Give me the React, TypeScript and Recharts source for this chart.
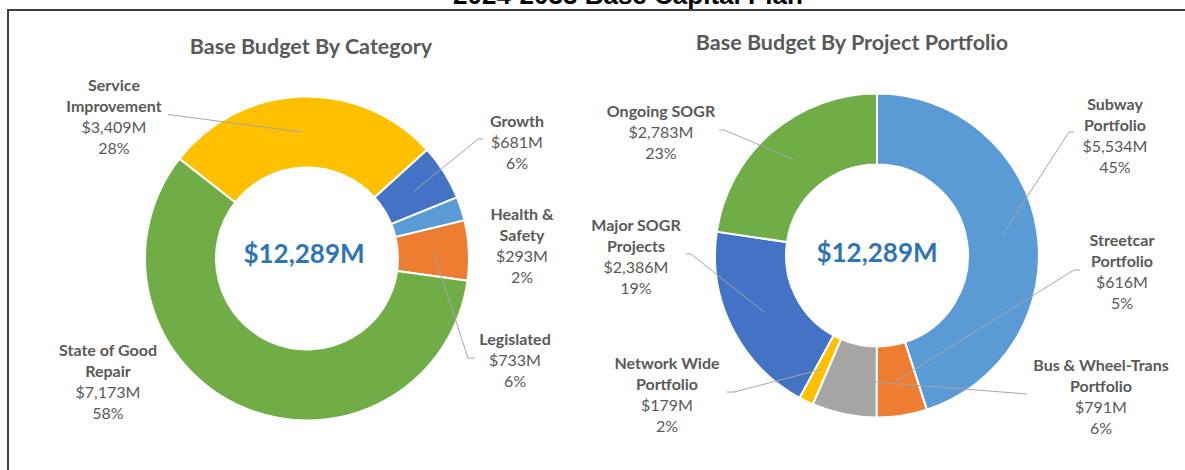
import React from 'react';
import { PieChart, Pie, Cell } from 'recharts';

// ---- data ----
const categoryNames = ['Service\nImprovement', 'Growth', 'Health &\nSafety', 'Legislated', 'State of Good\nRepair'];
const categoryValues = [3409, 681, 293, 733, 7173];
const categoryPercents = ['28%', '6%', '2%', '6%', '58%'];

const portfolioNames = [
  'Subway\nPortfolio',
  'Streetcar\nPortfolio',
  'Bus & Wheel-Trans\nPortfolio',
  'Network Wide\nPortfolio',
  'Major SOGR\nProjects',
  'Ongoing SOGR',
];
const portfolioValues = [5534, 616, 791, 179, 2386, 2783];
const portfolioPercents = ['45%', '5%', '6%', '2%', '19%', '23%'];

// ---- styles ----
const FONT = 'Lato, "Open Sans", sans-serif';
const TEXT = '#595959';
const LEADER = '#A6A6A6';
const TOTAL = '#2E75B6';
const LINE_H = 21;
const RAD = Math.PI / 180;

const categoryColors = ['#FFC000', '#4472C4', '#5B9BD5', '#ED7D31', '#70AD47'];
const portfolioColors = ['#5B9BD5', '#ED7D31', '#A5A5A5', '#FFC000', '#4472C4', '#70AD47'];

// label block centre (dx, dy) and leader start (lx, ly, short horizontal h), relative to pie centre
type Spot = { dx: number; dy: number; lx?: number; ly?: number; h?: number; frac?: number };

const categorySpots: Spot[] = [
  { dx: -193, dy: -142.5, lx: -139, ly: -144, h: 0 },
  { dx: 210, dy: -117.5, lx: 176, ly: -119.5, h: -5 },
  { dx: 215, dy: -13.5 },
  { dx: 208, dy: 100.5, lx: 168, ly: 99.5, h: -7 },
  { dx: -199, dy: 122 },
];

const portfolioSpots: Spot[] = [
  { dx: 238, dy: -120.5, lx: 197, ly: -123.5, h: -5 },
  { dx: 245, dy: 15.5, lx: 203, ly: 14.5, h: -6 },
  { dx: 224, dy: 140, lx: 150, ly: 138.5, h: 0, frac: 0.04 },
  { dx: -210, dy: 138.5, lx: -150, ly: 136.5, h: 7 },
  { dx: -241, dy: 0.5, lx: -191, ly: -1.5, h: 5 },
  { dx: -216, dy: -124, lx: -158, ly: -125.5, h: 5 },
];

const money = (v: number) => '$' + String(Math.round(v)).replace(/\B(?=(\d{3})+(?!\d))/g, ',') + 'M';

const makeLabel = (names: string[], pcts: string[], spots: Spot[]) => (props: any) => {
  const { cx, cy, index, value, startAngle, endAngle, innerRadius, outerRadius } = props;
  const s = spots[index];
  const lines = [
    ...names[index].split('\n').map((t) => ({ t, bold: true })),
    { t: money(value), bold: false },
    { t: pcts[index], bold: false },
  ];
  const x = cx + s.dx;
  const y0 = cy + s.dy - ((lines.length - 1) * LINE_H) / 2;
  let lead = null;
  if (s.lx !== undefined && s.ly !== undefined) {
    const ang = startAngle + (s.frac ?? 0.5) * (endAngle - startAngle);
    const r = (innerRadius + outerRadius) / 2;
    const ax = cx + r * Math.cos(-ang * RAD);
    const ay = cy + r * Math.sin(-ang * RAD);
    const sx = cx + s.lx;
    const sy = cy + s.ly;
    lead = (
      <polyline
        points={`${sx},${sy} ${sx + (s.h || 0)},${sy} ${ax},${ay}`}
        fill="none"
        stroke={LEADER}
        strokeWidth={1}
      />
    );
  }
  return (
    <g key={`lbl-${index}`}>
      {lead}
      {lines.map((ln, i) => (
        <text
          key={i}
          x={x}
          y={y0 + i * LINE_H}
          textAnchor="middle"
          dominantBaseline="central"
          fill={TEXT}
          fontFamily={FONT}
          fontSize={16}
          fontWeight={ln.bold ? 700 : 400}
        >
          {ln.t}
        </text>
      ))}
    </g>
  );
};

const categoryData = categoryValues.map((v, i) => ({ name: categoryNames[i], value: v }));
const portfolioData = portfolioValues.map((v, i) => ({ name: portfolioNames[i], value: v }));

const LEFT = { cx: 307, cy: 258.5 };
const RIGHT = { cx: 877, cy: 255.5 };
const INNER = 91;
const OUTER = 162;

const total = (vals: number[]) => vals.reduce((a, b) => a + b, 0);

const CenterTotal = ({ cx, cy, value }: { cx: number; cy: number; value: number }) => (
  <div
    style={{
      position: 'absolute',
      left: cx - 110,
      top: cy - 20,
      width: 220,
      height: 36,
      lineHeight: '36px',
      textAlign: 'center',
      fontFamily: FONT,
      fontWeight: 700,
      fontSize: 26,
      color: TOTAL,
    }}
  >
    {money(value)}
  </div>
);

const Title = ({ cx, cy, text }: { cx: number; cy: number; text: string }) => (
  <div
    style={{
      position: 'absolute',
      left: cx - 250,
      top: cy - 13,
      width: 500,
      height: 26,
      lineHeight: '26px',
      textAlign: 'center',
      fontFamily: FONT,
      fontWeight: 700,
      fontSize: 21.5,
      color: TEXT,
    }}
  >
    {text}
  </div>
);

export default function App() {
  return (
    <div
      style={{
        position: 'absolute',
        left: 0,
        top: 0,
        width: 1185,
        height: 470,
        overflow: 'hidden',
        background: '#fff',
      }}
    >
      <div
        style={{
          position: 'absolute',
          left: 0,
          top: -20,
          width: 1256,
          textAlign: 'center',
          fontFamily: '"Liberation Sans", Arial, sans-serif',
          fontWeight: 700,
          fontSize: 26,
          lineHeight: '30px',
          color: '#000',
        }}
      >
        2024-2033 Base Capital Plan
      </div>
      <div
        style={{
          position: 'absolute',
          left: 7,
          top: 9,
          width: 1400,
          height: 700,
          border: '2px solid #404040',
        }}
      />
      <div style={{ position: 'absolute', left: 0, top: 0 }}>
        <PieChart width={1185} height={470} margin={{ top: 0, right: 0, bottom: 0, left: 0 }}>
          <Pie
            data={categoryData}
            dataKey="value"
            nameKey="name"
            cx={LEFT.cx}
            cy={LEFT.cy}
            innerRadius={INNER}
            outerRadius={OUTER}
            startAngle={142}
            endAngle={-218}
            stroke="#fff"
            strokeWidth={2}
            labelLine={false}
            label={makeLabel(categoryNames, categoryPercents, categorySpots)}
            isAnimationActive={false}
          >
            {categoryData.map((d, i) => (
              <Cell key={d.name} fill={categoryColors[i]} />
            ))}
          </Pie>
          <Pie
            data={portfolioData}
            dataKey="value"
            nameKey="name"
            cx={RIGHT.cx}
            cy={RIGHT.cy}
            innerRadius={INNER}
            outerRadius={OUTER}
            startAngle={90}
            endAngle={-270}
            stroke="#fff"
            strokeWidth={2}
            labelLine={false}
            label={makeLabel(portfolioNames, portfolioPercents, portfolioSpots)}
            isAnimationActive={false}
          >
            {portfolioData.map((d, i) => (
              <Cell key={d.name} fill={portfolioColors[i]} />
            ))}
          </Pie>
        </PieChart>
      </div>
      <Title cx={311} cy={46} text="Base Budget By Category" />
      <Title cx={852} cy={42} text="Base Budget By Project Portfolio" />
      <CenterTotal cx={LEFT.cx - 3} cy={LEFT.cy - 4} value={total(categoryValues)} />
      <CenterTotal cx={RIGHT.cx} cy={RIGHT.cy - 2} value={total(portfolioValues)} />
    </div>
  );
}
